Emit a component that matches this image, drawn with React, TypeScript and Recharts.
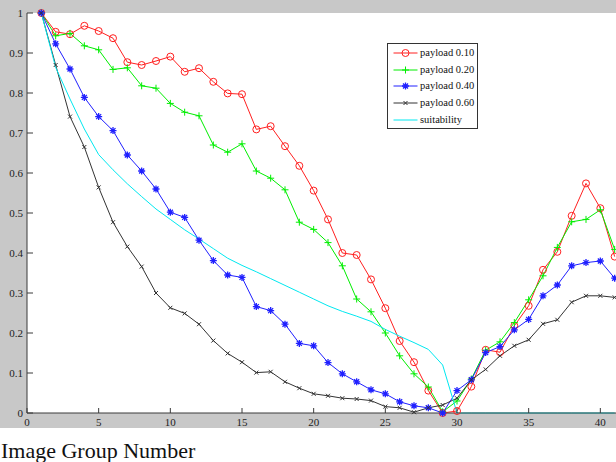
import React from "react";
import { LineChart, Line, XAxis, YAxis, CartesianGrid, Legend } from "recharts";

// image group numbers 1..41
const groups = [
  1, 2, 3, 4, 5, 6, 7, 8, 9, 10, 11, 12, 13, 14, 15, 16, 17, 18, 19, 20, 21,
  22, 23, 24, 25, 26, 27, 28, 29, 30, 31, 32, 33, 34, 35, 36, 37, 38, 39, 40, 41,
];

const payload010 = [
  1.0, 0.953, 0.947, 0.968, 0.955, 0.937, 0.877, 0.87, 0.88, 0.891, 0.853, 0.862,
  0.828, 0.799, 0.797, 0.709, 0.717, 0.667, 0.618, 0.556, 0.484, 0.4, 0.395, 0.334,
  0.262, 0.18, 0.127, 0.056, 0.0, 0.005, 0.066, 0.158, 0.152, 0.218, 0.268, 0.358,
  0.403, 0.493, 0.574, 0.512, 0.391,
];

const payload020 = [
  1.0, 0.943, 0.949, 0.918, 0.908, 0.859, 0.863, 0.818, 0.812, 0.774, 0.752, 0.743,
  0.67, 0.652, 0.673, 0.605, 0.587, 0.558, 0.477, 0.459, 0.426, 0.368, 0.285, 0.253,
  0.2, 0.143, 0.098, 0.065, 0.003, 0.03, 0.085, 0.157, 0.178, 0.226, 0.283, 0.343,
  0.414, 0.478, 0.484, 0.508, 0.409,
];

const payload040 = [
  1.0, 0.923, 0.86, 0.789, 0.741, 0.706, 0.645, 0.605, 0.56, 0.502, 0.489, 0.432,
  0.381, 0.345, 0.339, 0.266, 0.256, 0.222, 0.174, 0.168, 0.126, 0.098, 0.078, 0.058,
  0.048, 0.028, 0.018, 0.013, 0.0, 0.056, 0.083, 0.151, 0.166, 0.208, 0.234, 0.293,
  0.32, 0.368, 0.376, 0.38, 0.337,
];

const payload060 = [
  1.0, 0.87, 0.741, 0.665, 0.564, 0.477, 0.416, 0.366, 0.3, 0.263, 0.249, 0.222,
  0.181, 0.149, 0.127, 0.101, 0.103, 0.078, 0.062, 0.048, 0.043, 0.037, 0.035, 0.031,
  0.016, 0.013, 0.002, 0.013, 0.02, 0.037, 0.083, 0.109, 0.143, 0.168, 0.183, 0.223,
  0.233, 0.277, 0.293, 0.293, 0.289,
];

const suitability = [
  1.0, 0.864, 0.785, 0.71, 0.646, 0.608, 0.573, 0.541, 0.51, 0.484, 0.458, 0.435,
  0.411, 0.387, 0.369, 0.353, 0.336, 0.319, 0.302, 0.285, 0.268, 0.254, 0.242, 0.229,
  0.209, 0.192, 0.176, 0.159, 0.12, 0, 0, 0, 0, 0, 0, 0, 0, 0, 0, 0, 0,
];

const xTicks = [0, 5, 10, 15, 20, 25, 30, 35, 40];
const yTicks = [0, 0.1, 0.2, 0.3, 0.4, 0.5, 0.6, 0.7, 0.8, 0.9, 1];

const data = groups.map((g, i) => ({
  group: g,
  p10: payload010[i],
  p20: payload020[i],
  p40: payload040[i],
  p60: payload060[i],
  suit: suitability[i],
}));

type MarkerType = "circle" | "plus" | "star" | "x" | "none";

const series: { key: string; name: string; color: string; marker: MarkerType }[] = [
  { key: "p10", name: "payload 0.10", color: "#ff2020", marker: "circle" },
  { key: "p20", name: "payload 0.20", color: "#00ee00", marker: "plus" },
  { key: "p40", name: "payload 0.40", color: "#2020ff", marker: "star" },
  { key: "p60", name: "payload 0.60", color: "#333333", marker: "x" },
  { key: "suit", name: "suitability", color: "#00e8f0", marker: "none" },
];

const FONT = '"Liberation Serif", "Times New Roman", serif';
const AXIS = "#3a3a3a";

function Marker({ type, cx, cy, color }: { type: MarkerType; cx: number; cy: number; color: string }) {
  if (type === "circle")
    return <circle cx={cx} cy={cy} r={3.5} fill="none" stroke={color} strokeWidth={1} />;
  if (type === "plus") {
    const s = 3.5;
    return <path d={`M${cx - s},${cy}H${cx + s}M${cx},${cy - s}V${cy + s}`} stroke={color} strokeWidth={1} />;
  }
  if (type === "star") {
    const s = 3.5;
    const d = 2.5;
    return (
      <path
        d={`M${cx - s},${cy}H${cx + s}M${cx},${cy - s}V${cy + s}M${cx - d},${cy - d}L${cx + d},${cy + d}M${cx - d},${cy + d}L${cx + d},${cy - d}`}
        stroke={color}
        strokeWidth={1.3}
      />
    );
  }
  if (type === "x") {
    const d = 2;
    return (
      <path d={`M${cx - d},${cy - d}L${cx + d},${cy + d}M${cx - d},${cy + d}L${cx + d},${cy - d}`} stroke={color} strokeWidth={1} />
    );
  }
  return null;
}

function makeDot(type: MarkerType, color: string) {
  return (props: any) => {
    const { cx, cy, index } = props;
    if (cx == null || cy == null) return <g key={`d-${index}`} />;
    return (
      <g key={`d-${index}`}>
        <Marker type={type} cx={cx} cy={cy} color={color} />
      </g>
    );
  };
}

function XTick(props: any) {
  const { x, y, payload } = props;
  return (
    <g>
      <line x1={x} x2={x} y1={y} y2={y - 5} stroke={AXIS} />
      <text x={x} y={y + 13} textAnchor="middle" fontSize={11} fontFamily={FONT} fill="#222">
        {payload.value}
      </text>
    </g>
  );
}

function YTick(props: any) {
  const { x, y, payload } = props;
  const label = String(Math.round(payload.value * 10) / 10);
  return (
    <g>
      <line x1={x} x2={x + 6} y1={y} y2={y} stroke={AXIS} />
      <text x={x - 4} y={y + 4} textAnchor="end" fontSize={11} fontFamily={FONT} fill="#222">
        {label}
      </text>
    </g>
  );
}

function LegendBox() {
  return (
    <div
      style={{
        position: "relative",
        width: 89,
        height: 84,
        border: "1px solid #333",
        background: "#fff",
        fontFamily: FONT,
        fontSize: 10.5,
        color: "#111",
      }}
    >
      {series.map((s, i) => (
        <div key={s.key} style={{ position: "absolute", left: 0, top: 0.7 + i * 16.8, height: 16, width: 89 }}>
          <svg width={30} height={16} style={{ position: "absolute", left: 0, top: 0 }}>
            <line x1={5.5} x2={29.5} y1={8} y2={8} stroke={s.color} strokeWidth={1} />
            <Marker type={s.marker} cx={17.5} cy={8} color={s.color} />
          </svg>
          <span style={{ position: "absolute", left: 32, top: 0, lineHeight: "16px", whiteSpace: "nowrap" }}>{s.name}</span>
        </div>
      ))}
    </div>
  );
}

export default function App() {
  return (
    <div
      style={{
        position: "fixed",
        left: 0,
        top: 0,
        width: 616,
        height: 462,
        overflow: "hidden",
        background: "#ffffff",
      }}
    >
      <div style={{ position: "absolute", left: 0, top: 0, width: 616, height: 428, background: "#c8c8c8" }} />
      <div style={{ position: "absolute", left: 0, top: 0 }}>
        <LineChart width={700} height={428} data={data} margin={{ top: 13, right: 28, bottom: 0, left: 0 }}>
          <CartesianGrid horizontal={false} vertical={false} fill="#ffffff" stroke="none" />
          <XAxis
            dataKey="group"
            type="number"
            domain={[0, 45]}
            ticks={xTicks}
            interval={0}
            height={15}
            tickLine={false}
            tickSize={0}
            tickMargin={0}
            axisLine={{ stroke: AXIS }}
            tick={<XTick />}
          />
          <YAxis
            type="number"
            domain={[0, 1]}
            ticks={yTicks}
            interval={0}
            width={27}
            tickLine={false}
            tickSize={0}
            tickMargin={0}
            axisLine={{ stroke: AXIS }}
            tick={<YTick />}
          />
          <Legend
            layout="horizontal"
            verticalAlign="middle"
            align="center"
            content={() => <LegendBox />}
            wrapperStyle={{ position: "absolute", left: 387, top: 43, width: 91, height: 86 }}
          />
          {series.map((s) => (
            <Line
              key={s.key}
              type="linear"
              dataKey={s.key}
              name={s.name}
              stroke={s.color}
              strokeWidth={1}
              dot={s.marker === "none" ? false : makeDot(s.marker, s.color)}
              activeDot={false}
              isAnimationActive={false}
            />
          ))}
        </LineChart>
      </div>
      <div
        style={{
          position: "absolute",
          left: 1,
          top: 440,
          fontFamily: FONT,
          fontSize: 22,
          lineHeight: "22px",
          color: "#111",
          whiteSpace: "nowrap",
        }}
      >
        Image Group Number
      </div>
    </div>
  );
}
